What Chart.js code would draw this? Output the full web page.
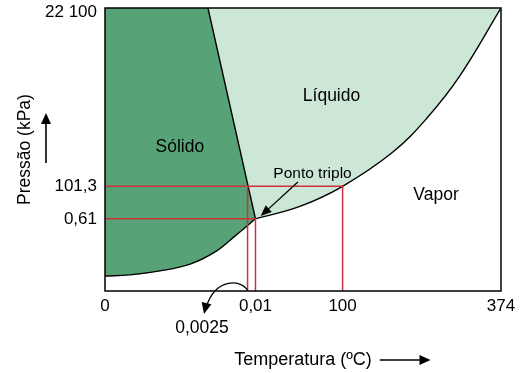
<!DOCTYPE html>
<html>
<head>
<meta charset="utf-8"/>
<title>Diagrama de fases da água</title>
<script src="https://cdn.jsdelivr.net/npm/chart.js@4/dist/chart.umd.min.js"></script>
<style>
html,body{margin:0;padding:0;background:#fff;}
#wrap{width:524px;height:373px;}
</style>
</head>
<body>
<div id="wrap"><canvas id="chart"></canvas></div>
<script>
// schematic diagram (not to scale): both axes use "diagram units" 0-100
var xTickValues = [0, 38, 60, 100];
var xTickLabels = ['0', '0,01', '100', '374'];
var yTickValues = [98.6, 37, 25.5];
var yTickLabels = ['22 100', '101,3', '0,61'];

// sublimation curve (solid/vapour)
var sublimX = [0, 6.3, 13.9, 21.5, 27.8, 32.8, 38];
var sublimY = [5.3, 5.7, 7.1, 9.5, 13.8, 19.4, 25.5];
// fusion line (solid/liquid), straight
var fusionX = [26, 38];
var fusionY = [100, 25.5];
// vaporisation curve (liquid/vapour)
var vaporX = [38, 49.2, 60, 72.7, 81.3, 89.6, 100];
var vaporY = [25.5, 29.9, 37, 49.1, 61.1, 76, 100];

// red reading lines
var tMelt = 36, tTriple = 38, tBoil = 60;   // 0,0025 ; 0,01 ; 100
var pAtm = 37, pTriple = 25.5;              // 101,3 ; 0,61

var pts = function(xs, ys){ return xs.map(function(x, i){ return {x: x, y: ys[i]}; }); };

var redData = [
  {x: 0, y: pAtm}, {x: tBoil, y: pAtm}, {x: tBoil, y: 0}, {x: tBoil, y: null},
  {x: tMelt, y: pAtm}, {x: tMelt, y: 0}, {x: tMelt, y: null},
  {x: 0, y: pTriple}, {x: tTriple, y: pTriple}, {x: tTriple, y: 0}
];

// fusion line plus the first vapour point: fill only, joins the vapour fill
var fusionFill = pts(fusionX, fusionY).concat([{x: vaporX[1], y: vaporY[1]}]);

var FONT = '"Liberation Sans", Arial, sans-serif';
var INK = '#000';

function arrowHead(ctx, x1, y1, x2, y2, len, half){
  var a = Math.atan2(y2 - y1, x2 - x1);
  ctx.beginPath();
  ctx.moveTo(x2, y2);
  ctx.lineTo(x2 - len*Math.cos(a) + half*Math.sin(a), y2 - len*Math.sin(a) - half*Math.cos(a));
  ctx.lineTo(x2 - len*Math.cos(a) - half*Math.sin(a), y2 - len*Math.sin(a) + half*Math.cos(a));
  ctx.closePath();
  ctx.fill();
}

var notes = {
  id: 'notes',
  afterDraw: function(chart){
    var ctx = chart.ctx, a = chart.chartArea;
    var xs = chart.scales.x, ys = chart.scales.y;
    var X = function(v){ return xs.getPixelForValue(v); };
    var Y = function(v){ return ys.getPixelForValue(v); };
    ctx.save();
    ctx.strokeStyle = '#000';
    ctx.lineWidth = 1.5;
    ctx.strokeRect(a.left, a.top, a.right - a.left, a.bottom - a.top);

    ctx.fillStyle = INK;
    ctx.textAlign = 'center';
    ctx.textBaseline = 'middle';
    ctx.font = '17.5px ' + FONT;
    ctx.fillText('Sólido', X(18.9), Y(50.9));
    ctx.fillText('Líquido', X(57.2), Y(68.7));
    ctx.fillText('Vapor', X(83.6), Y(34));
    ctx.font = '15.5px ' + FONT;
    ctx.fillText('Ponto triplo', X(52.4), Y(41.5));
    ctx.font = '17.5px ' + FONT;
    ctx.fillText('0,0025', X(24.5), Y(-13.1));

    ctx.fillStyle = '#000';
    ctx.lineWidth = 1.3;
    // arrow to the triple point
    ctx.beginPath();
    ctx.moveTo(X(48.7), Y(38.5));
    ctx.lineTo(X(40.2), Y(27.6));
    ctx.stroke();
    arrowHead(ctx, X(48.7), Y(38.5), X(39.3), Y(26.5), 11, 4.5);

    // curved arrow to 0,0025
    ctx.beginPath();
    ctx.moveTo(X(36.1), Y(0));
    ctx.bezierCurveTo(X(34.6), Y(4.2), X(28), Y(4.8), X(25.6), Y(-5.5));
    ctx.stroke();
    arrowHead(ctx, X(26.2), Y(-1), X(25), Y(-8.1), 11, 5);

    // axis direction arrows
    ctx.lineWidth = 1.6;
    ctx.beginPath();
    ctx.moveTo(X(-14.9), Y(45.2));
    ctx.lineTo(X(-14.9), Y(60));
    ctx.stroke();
    arrowHead(ctx, X(-14.9), Y(45.2), X(-14.9), Y(62.9), 11, 5);
    ctx.beginPath();
    ctx.moveTo(X(69.4), Y(-24.4));
    ctx.lineTo(X(79.5), Y(-24.4));
    ctx.stroke();
    arrowHead(ctx, X(69.4), Y(-24.4), X(82.2), Y(-24.4), 11, 5);
    ctx.restore();
  }
};

new Chart(document.getElementById('chart'), {
  type: 'line',
  data: {
    datasets: [
      { data: redData, borderColor: '#cf3139', borderWidth: 1.5, pointRadius: 0, fill: false, spanGaps: false, tension: 0 },
      { data: pts(fusionX, fusionY), borderColor: '#000', borderWidth: 1.4, pointRadius: 0, fill: false, tension: 0 },
      { data: pts(vaporX, vaporY), borderColor: '#000', borderWidth: 1.4, pointRadius: 0,
        backgroundColor: '#cde7d6', fill: 'end', tension: 0.4 },
      { data: fusionFill, borderWidth: 0, borderColor: 'rgba(0,0,0,0)', pointRadius: 0, tension: 0,
        backgroundColor: '#cde7d6', fill: 'end' },
      { data: pts(sublimX, sublimY), borderColor: '#000', borderWidth: 1.4, pointRadius: 0,
        backgroundColor: '#58a277', fill: 'end', tension: 0.4 }
    ]
  },
  options: {
    responsive: true,
    maintainAspectRatio: false,
    animation: false,
    layout: { padding: { top: 8, right: 23, left: 0, bottom: 0 } },
    plugins: { legend: { display: false }, tooltip: { enabled: false } },
    scales: {
      x: {
        type: 'linear', min: 0, max: 100,
        grid: { display: false, drawTicks: false },
        border: { display: false },
        afterBuildTicks: function(s){ s.ticks = xTickValues.map(function(v){ return {value: v}; }); },
        afterFit: function(s){ s.height = 82; s.paddingLeft = 0; s.paddingRight = 0; },
        ticks: {
          autoSkip: false, maxRotation: 0, padding: 5, color: INK,
          font: { family: FONT, size: 17 },
          callback: function(v, i){ return xTickLabels[i]; }
        },
        title: { display: true, text: 'Temperatura (ºC)', color: INK,
          font: { family: FONT, size: 18 }, padding: { top: 2, bottom: 2 } }
      },
      y: {
        type: 'linear', min: 0, max: 100,
        grid: { display: false, drawTicks: false },
        border: { display: false },
        afterBuildTicks: function(s){ s.ticks = yTickValues.map(function(v){ return {value: v}; }); },
        afterFit: function(s){ s.width = 105; s.paddingTop = 0; s.paddingBottom = 0; },
        ticks: {
          autoSkip: false, padding: 8, color: INK,
          font: { family: FONT, size: 17 },
          callback: function(v, i){ return yTickLabels[i]; }
        },
        title: { display: true, text: 'Pressão (kPa)', color: INK,
          font: { family: FONT, size: 17.5 }, padding: { top: 15, bottom: 0 } }
      }
    }
  },
  plugins: [notes]
});
</script>
</body>
</html>
